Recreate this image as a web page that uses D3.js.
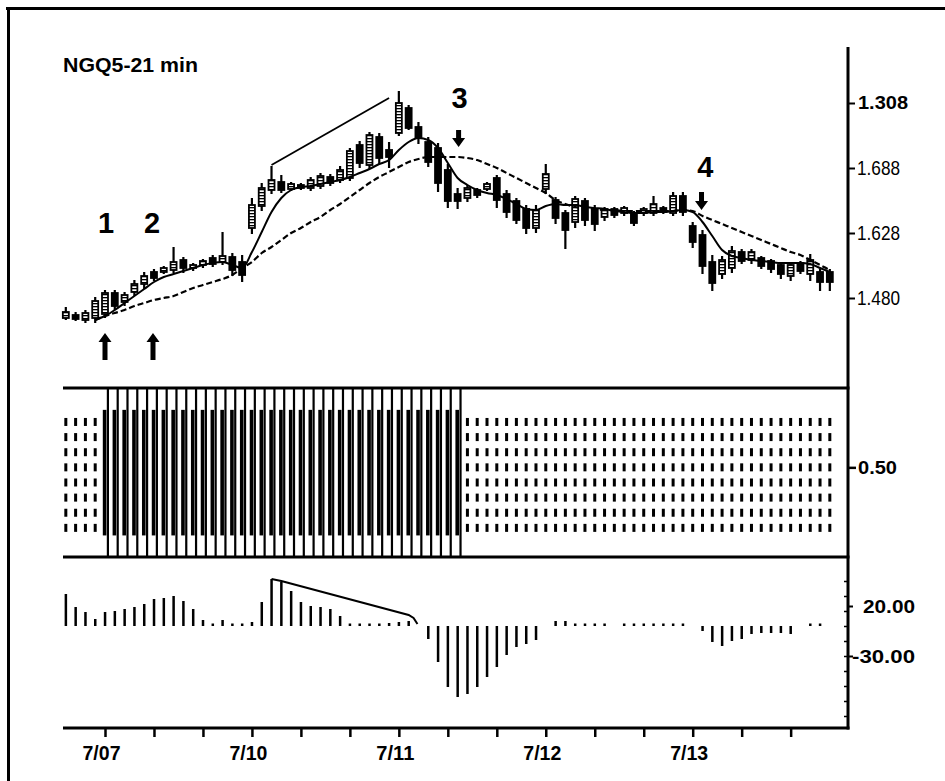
<!DOCTYPE html>
<html><head><meta charset="utf-8">
<script src="https://cdn.jsdelivr.net/npm/d3@7"></script>
<style>body{margin:0;background:#fff;} svg{display:block;}</style>
</head><body><svg id="c" width="945" height="781"></svg>
<script>
// ---------------- DATA ----------------
const title = "NGQ5-21 min";
const barIndex = d3.range(79);
const opens = [1.485,1.488,1.483,1.485,1.489,1.510,1.501,1.511,1.519,1.531,
 1.531,1.533,1.543,1.535,1.538,1.545,1.541,1.546,1.541,1.575,
 1.597,1.613,1.621,1.614,1.618,1.615,1.617,1.626,1.623,1.625,
 1.658,1.638,1.666,1.653,1.670,1.695,1.676,1.661,1.655,1.633,
 1.609,1.605,1.613,1.614,1.625,1.609,1.602,1.594,1.575,1.614,
 1.603,1.590,1.581,1.602,1.594,1.586,1.594,1.590,1.589,1.590,
 1.590,1.595,1.590,1.607,1.577,1.568,1.541,1.529,1.535,1.551,
 1.543,1.545,1.542,1.538,1.527,1.540,1.529,1.531,1.531];
const highs = [1.496,1.491,1.493,1.506,1.513,1.513,1.511,1.523,1.531,1.534,
 1.537,1.556,1.546,1.540,1.544,1.548,1.571,1.550,1.548,1.605,
 1.620,1.637,1.628,1.621,1.620,1.626,1.630,1.629,1.637,1.655,
 1.662,1.671,1.670,1.661,1.712,1.698,1.681,1.666,1.660,1.639,
 1.615,1.618,1.615,1.621,1.628,1.613,1.605,1.598,1.598,1.639,
 1.606,1.593,1.607,1.605,1.598,1.596,1.596,1.597,1.592,1.596,
 1.607,1.597,1.611,1.611,1.581,1.573,1.548,1.547,1.557,1.554,
 1.554,1.547,1.544,1.541,1.541,1.542,1.549,1.534,1.534];
const lows = [1.483,1.482,1.480,1.480,1.485,1.493,1.497,1.507,1.514,1.522,
 1.529,1.530,1.530,1.532,1.535,1.536,1.538,1.527,1.521,1.569,
 1.592,1.609,1.610,1.612,1.613,1.612,1.614,1.617,1.620,1.622,
 1.635,1.634,1.639,1.635,1.667,1.673,1.659,1.636,1.611,1.595,
 1.594,1.601,1.605,1.612,1.595,1.585,1.579,1.569,1.570,1.609,
 1.579,1.554,1.575,1.577,1.572,1.582,1.585,1.587,1.577,1.587,
 1.587,1.589,1.587,1.587,1.555,1.529,1.512,1.524,1.530,1.539,
 1.539,1.534,1.530,1.524,1.522,1.529,1.522,1.512,1.512];
const closes = [1.491,1.484,1.490,1.502,1.510,1.497,1.508,1.519,1.527,1.525,
 1.535,1.541,1.535,1.538,1.542,1.539,1.547,1.533,1.528,1.598,
 1.615,1.623,1.613,1.619,1.615,1.623,1.627,1.620,1.633,1.652,
 1.640,1.668,1.645,1.646,1.700,1.675,1.665,1.641,1.620,1.602,
 1.602,1.615,1.608,1.619,1.603,1.591,1.583,1.575,1.593,1.629,
 1.585,1.573,1.604,1.583,1.579,1.594,1.588,1.595,1.580,1.594,
 1.599,1.591,1.607,1.591,1.561,1.537,1.520,1.543,1.552,1.542,
 1.551,1.537,1.534,1.529,1.538,1.532,1.543,1.521,1.521];
const fastMA = [null,null,null,1.483,1.487,1.493,1.500,1.507,1.514,1.521,
 1.526,1.529,1.532,1.535,1.538,1.540,1.541,1.538,1.535,1.551,
 1.571,1.591,1.605,1.613,1.616,1.617,1.619,1.621,1.623,1.626,
 1.630,1.634,1.639,1.643,1.653,1.661,1.665,1.663,1.655,1.640,
 1.625,1.618,1.613,1.610,1.608,1.604,1.599,1.594,1.593,1.597,
 1.599,1.598,1.598,1.596,1.595,1.594,1.592,1.591,1.590,1.590,
 1.591,1.591,1.592,1.593,1.591,1.581,1.567,1.553,1.547,1.545,
 1.543,1.542,1.541,1.540,1.540,1.540,1.539,1.535,1.531];
const slowMA = [null,null,null,1.483,1.487,1.490,1.493,1.497,1.500,1.503,
 1.505,1.507,1.511,1.515,1.518,1.521,1.524,1.528,1.535,1.541,
 1.550,1.556,1.563,1.570,1.575,1.581,1.586,1.593,1.599,1.606,
 1.613,1.620,1.626,1.631,1.636,1.641,1.644,1.646,1.646,1.646,
 1.646,1.645,1.643,1.639,1.635,1.630,1.625,1.620,1.615,1.610,
 1.603,1.599,1.596,1.595,1.594,1.593,1.593,1.592,1.592,1.592,
 1.592,1.592,1.592,1.593,1.592,1.587,1.583,1.579,1.575,1.571,
 1.567,1.563,1.559,1.555,1.551,1.548,1.543,1.538,1.533];
const priceTrend = [[21,1.638],[33,1.705]];
const signal = [0,0,0,0,1,1,1,1,1,1, 1,1,1,1,1,1,1,1,1,1, 1,1,1,1,1,1,1,1,1,1,
 1,1,1,1,1,1,1,1,1,1, 1,0,0,0,0,0,0,0,0,0, 0,0,0,0,0,0,0,0,0,0,
 0,0,0,0,0,0,0,0,0,0, 0,0,0,0,0,0,0,0,0];
const signalRows = [0.8,0.7,0.6,0.5,0.4,0.3,0.2,0.1];
const histValues = [32,19,14,7,14,15,17,19,22,27,
 28,30,25,17,6,1,6,1,1,4,
 24,47,44,35,24,20,19,17,10,2,
 1,1,2,3,4,5,0,-13,-36,-61,
 -71,-68,-61,-51,-41,-29,-21,-18,-14,0,
 5,5,1,1,1,1,0,1,1,1,
 1,2,2,2,0,-5,-16,-20,-15,-13,
 -8,-7,-7,-7,-8,0,2,1,0];
const histTrend = [[21,47],[22,45],[35,11],[35.5,8],[35.9,2]];
const priceTicks = [1.700,1.635,1.570,1.505];
const priceTickLabels = ["1.308","1.688","1.628","1.480"];
const signalTicks = [0.5];
const signalTickLabels = ["0.50"];
const histTicks = [20,-30];
const histTickLabels = ["20.00","-30.00"];
const histMinorTicks = [45,30,15,0,-15,-30,-45,-60,-75,-90];
const dateTickBars = [4,9,14,19,24,29,34,39,44,49,54,59,64,69,74];
const dateLabels = ["7/07","","","7/10","","","7/11","","","7/12","","","7/13","",""];
const markLabels = ["1","2","3","4"];
const markBars = [4.1,8.8,40.2,65.3];
const markPrices = [1.570,1.570,1.695,1.626];
const arrowBars = [4,8.9,40.1,64.9];
const arrowTails = [1.443,1.443,1.673,1.611];
const arrowTips = [1.470,1.470,1.656,1.593];

// ---------------- DRAW ----------------
const svg = d3.select("#c");
const FF = "'Liberation Sans', Arial, Helvetica, sans-serif";
const x = d3.scaleLinear().domain([4,64]).range([105,692.7]);
const yP = d3.scaleLinear().domain([1.505,1.700]).range([298,103]);
const yS = d3.scaleLinear().domain([0,1]).range([543,391.7]);
const yH = d3.scaleLinear().domain([-30,20]).range([656,606]);
const L = 63, R = 848;

// hatch pattern for hollow (up) candle bodies, imitating the scanned look
const defs = svg.append("defs");
const pat = defs.append("pattern").attr("id","hatch").attr("patternUnits","userSpaceOnUse")
  .attr("width",4).attr("height",3);
pat.append("rect").attr("width",4).attr("height",3).attr("fill","#fff");
pat.append("rect").attr("width",4).attr("height",1.3).attr("fill","#000");

// outer frame
svg.append("line").attr("x1",6).attr("x2",945).attr("y1",8.5).attr("y2",8.5).attr("stroke","#000").attr("stroke-width",3);
svg.append("line").attr("x1",8.5).attr("x2",8.5).attr("y1",7).attr("y2",781).attr("stroke","#000").attr("stroke-width",3);

// title
svg.append("text").attr("x",63).attr("y",72).text(title)
  .attr("font-family",FF).attr("font-weight","bold").attr("font-size",20)
  .attr("textLength",135).attr("lengthAdjust","spacingAndGlyphs");

// ---- middle panel (signal) ----
const gS = svg.append("g");
barIndex.forEach(i => {
  if (signal[i]) {
    gS.append("rect").attr("x", x(i)-2.2).attr("width",3.6)
      .attr("y", yS(0.88)).attr("height", yS(0.05)-yS(0.88)).attr("fill","#000");
    gS.append("rect").attr("x", x(i)+1.8).attr("width",2.2)
      .attr("y", 388).attr("height", 557-388).attr("fill","#000");
  } else {
    signalRows.forEach(r => {
      gS.append("rect").attr("x", x(i)-1.5).attr("width",3)
        .attr("y", yS(r)-4).attr("height",8).attr("fill","#000");
    });
  }
});
svg.append("line").attr("x1",L).attr("x2",R+1.5).attr("y1",388).attr("y2",388).attr("stroke","#000").attr("stroke-width",3);
svg.append("line").attr("x1",L).attr("x2",R+1.5).attr("y1",557).attr("y2",557).attr("stroke","#000").attr("stroke-width",3);

// ---- top panel (price) ----
const gC = svg.append("g");
barIndex.forEach(i => {
  const o = opens[i], c = closes[i];
  gC.append("line").attr("x1",x(i)).attr("x2",x(i)).attr("y1",yP(highs[i])).attr("y2",yP(lows[i]))
    .attr("stroke","#000").attr("stroke-width",2.2);
  const top = yP(Math.max(o,c)), bot = yP(Math.min(o,c));
  gC.append("rect").attr("x",x(i)-3).attr("width",6).attr("y",top).attr("height",Math.max(2,bot-top))
    .attr("fill", c >= o ? "url(#hatch)" : "#000").attr("stroke","#000").attr("stroke-width",1.8);
});
const maLine = d3.line().defined(d => d[1] != null).x(d => x(d[0])).y(d => yP(d[1])).curve(d3.curveMonotoneX);
svg.append("path").attr("d", maLine(slowMA.map((v,i)=>[i,v]))).attr("fill","none")
  .attr("stroke","#000").attr("stroke-width",2.2).attr("stroke-dasharray","6,3");
svg.append("path").attr("d", maLine(fastMA.map((v,i)=>[i,v]))).attr("fill","none")
  .attr("stroke","#000").attr("stroke-width",2);
svg.append("path").attr("d", d3.line().x(d=>x(d[0])).y(d=>yP(d[1]))(priceTrend))
  .attr("fill","none").attr("stroke","#000").attr("stroke-width",1.8);

// annotations
markLabels.forEach((t,k) => {
  svg.append("text").attr("x", x(markBars[k])).attr("y", yP(markPrices[k])).text(t)
    .attr("text-anchor","middle").attr("font-family",FF).attr("font-weight","bold").attr("font-size",29);
});
arrowBars.forEach((b,k) => {
  const cx = x(b), tip = yP(arrowTips[k]), tail = yP(arrowTails[k]);
  const dir = Math.sign(tail - tip), hb = tip + dir*9;
  const p = `M${cx},${tip} L${cx+6.5},${hb} L${cx+2.5},${hb} L${cx+2.5},${tail} L${cx-2.5},${tail} L${cx-2.5},${hb} L${cx-6.5},${hb} Z`;
  svg.append("path").attr("d",p).attr("fill","#000");
});

// ---- bottom panel (histogram) ----
const gH = svg.append("g");
barIndex.forEach(i => {
  const v = histValues[i];
  if (v === 0) return;
  const y0 = yH(0), y1 = yH(v);
  const h = Math.max(2.5, Math.abs(y1-y0));
  gH.append("rect").attr("x",x(i)-1.2).attr("width",2.5).attr("y", v>0 ? y0-h : y0).attr("height",h).attr("fill","#000");
});
svg.append("path").attr("d", d3.line().x(d=>x(d[0])).y(d=>yH(d[1])).curve(d3.curveLinear)(histTrend))
  .attr("fill","none").attr("stroke","#000").attr("stroke-width",2);

// ---- axes ----
svg.append("line").attr("x1",R).attr("x2",R).attr("y1",47).attr("y2",729.5).attr("stroke","#000").attr("stroke-width",3);
svg.append("line").attr("x1",L).attr("x2",R+1.5).attr("y1",728).attr("y2",728).attr("stroke","#000").attr("stroke-width",3);

const gP = svg.append("g").attr("transform",`translate(${R},0)`)
  .call(d3.axisRight(yP).tickValues(priceTicks).tickSize(7).tickFormat((d,i)=>priceTickLabels[i]));
gP.select(".domain").remove();
gP.selectAll("line").attr("stroke","#000").attr("stroke-width",2);
gP.selectAll("text").attr("font-family",FF).attr("fill","#000").attr("text-anchor","end")
  .attr("lengthAdjust","spacingAndGlyphs")
  .each(function(d,i){
    const s = d3.select(this);
    if (i === 0) s.attr("x",60).attr("font-weight","bold").attr("font-size",18).attr("textLength",50);
    else s.attr("x",52).attr("font-size",20).attr("textLength",43);
  });

const gSa = svg.append("g").attr("transform",`translate(${R},0)`)
  .call(d3.axisRight(yS).tickValues(signalTicks).tickSize(8).tickFormat((d,i)=>signalTickLabels[i]));
gSa.select(".domain").remove();
gSa.selectAll("line").attr("stroke","#000").attr("stroke-width",2.5);
gSa.selectAll("text").attr("font-family",FF).attr("fill","#000").attr("text-anchor","end").attr("x",49)
  .attr("font-weight","bold").attr("font-size",19).attr("textLength",39).attr("lengthAdjust","spacingAndGlyphs");

const gHm = svg.append("g").attr("transform",`translate(${R},0)`)
  .call(d3.axisLeft(yH).tickValues(histMinorTicks).tickSize(4).tickFormat(""));
gHm.select(".domain").remove();
gHm.selectAll("line").attr("stroke","#000").attr("stroke-width",1.5);

const gHa = svg.append("g").attr("transform",`translate(${R},0)`)
  .call(d3.axisRight(yH).tickValues(histTicks).tickSize(5).tickFormat((d,i)=>histTickLabels[i]));
gHa.select(".domain").remove();
gHa.selectAll("line").attr("stroke","#000").attr("stroke-width",2);
gHa.selectAll("text").attr("font-family",FF).attr("fill","#000").attr("text-anchor","end").attr("x",67)
  .attr("font-weight","bold").attr("font-size",19).attr("lengthAdjust","spacingAndGlyphs")
  .attr("textLength",(d,i)=> i===0 ? 52 : 63);

const gX = svg.append("g").attr("transform","translate(0,728)")
  .call(d3.axisBottom(x).tickValues(dateTickBars).tickSize(9).tickFormat((d,i)=>dateLabels[i]));
gX.select(".domain").remove();
gX.selectAll("line").attr("stroke","#000").attr("stroke-width",2.5);
gX.selectAll("text").attr("font-family",FF).attr("fill","#000").attr("font-weight","bold").attr("font-size",20)
  .attr("y",32).attr("dy",0).attr("dx",-4)
  .attr("textLength",(d,i)=> dateLabels[i] ? 38 : null).attr("lengthAdjust","spacingAndGlyphs");
</script>
</body></html>
